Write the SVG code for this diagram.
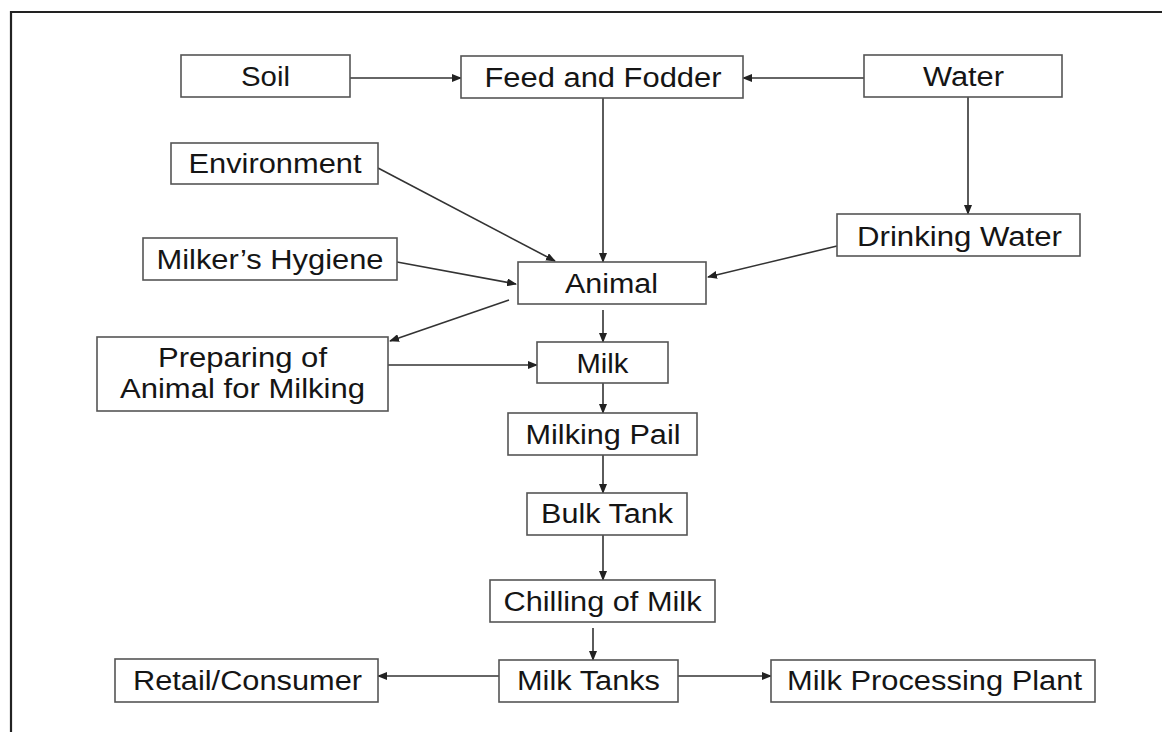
<svg xmlns="http://www.w3.org/2000/svg" width="1162" height="732" viewBox="0 0 1162 732">
<defs>
<style>
.box{fill:#fff;stroke:#555;stroke-width:1.6}
.t{font-family:"Liberation Sans",Arial,sans-serif;font-size:27px;fill:#151515;text-anchor:middle}
.c{stroke:#333;stroke-width:1.6;fill:none;marker-end:url(#ah)}
</style>
<marker id="ah" markerWidth="10" markerHeight="8" refX="9" refY="4" orient="auto" markerUnits="userSpaceOnUse">
<path d="M0,0 L10,4 L0,8 Z" fill="#222"/>
</marker>
</defs>
<rect width="1162" height="732" fill="#fff"/>
<path d="M11,732 V12 H1162" fill="none" stroke="#222" stroke-width="2.2"/>
<g id="connectors">
<line class="c" x1="350" y1="78" x2="461" y2="78"/>
<line class="c" x1="864" y1="78" x2="743" y2="78"/>
<line class="c" x1="603" y1="98" x2="603" y2="262"/>
<line class="c" x1="968" y1="97" x2="968" y2="214"/>
<line class="c" x1="378" y1="168" x2="555" y2="261"/>
<line class="c" x1="397" y1="262" x2="516" y2="284"/>
<line class="c" x1="837" y1="246" x2="708" y2="277"/>
<line class="c" x1="509" y1="300" x2="390" y2="341"/>
<line class="c" x1="388" y1="365" x2="537" y2="365"/>
<line class="c" x1="603" y1="310" x2="603" y2="342"/>
<line class="c" x1="603" y1="383" x2="603" y2="413"/>
<line class="c" x1="603" y1="455" x2="603" y2="493"/>
<line class="c" x1="603" y1="535" x2="603" y2="580"/>
<line class="c" x1="593" y1="628" x2="593" y2="660"/>
<line class="c" x1="499" y1="676" x2="378" y2="676"/>
<line class="c" x1="678" y1="676" x2="771" y2="676"/>
</g>
<g id="soil"><rect class="box" x="181" y="55" width="169" height="42"/><text class="t" x="265.5" y="86" textLength="49" lengthAdjust="spacingAndGlyphs">Soil</text></g>
<g id="feed"><rect class="box" x="461" y="56" width="282" height="42"/><text class="t" x="603" y="87" textLength="237" lengthAdjust="spacingAndGlyphs">Feed and Fodder</text></g>
<g id="water"><rect class="box" x="864" y="55" width="198" height="42"/><text class="t" x="963.5" y="86" textLength="81" lengthAdjust="spacingAndGlyphs">Water</text></g>
<g id="environment"><rect class="box" x="171" y="143" width="207" height="41"/><text class="t" x="275" y="173" textLength="173" lengthAdjust="spacingAndGlyphs">Environment</text></g>
<g id="drinking-water"><rect class="box" x="837" y="214" width="243" height="42"/><text class="t" x="959.5" y="246" textLength="205" lengthAdjust="spacingAndGlyphs">Drinking Water</text></g>
<g id="milkers-hygiene"><rect class="box" x="143" y="238" width="254" height="42"/><text class="t" x="270" y="269" textLength="227" lengthAdjust="spacingAndGlyphs">Milker’s Hygiene</text></g>
<g id="animal"><rect class="box" x="518" y="262" width="188" height="42"/><text class="t" x="611.5" y="293" textLength="93" lengthAdjust="spacingAndGlyphs">Animal</text></g>
<g id="preparing"><rect class="box" x="97" y="337" width="291" height="74"/><text class="t" x="242.5" y="367" textLength="169" lengthAdjust="spacingAndGlyphs">Preparing of</text><text class="t" x="242.5" y="398" textLength="245" lengthAdjust="spacingAndGlyphs">Animal for Milking</text></g>
<g id="milk"><rect class="box" x="537" y="342" width="131" height="41"/><text class="t" x="602.5" y="373" textLength="52" lengthAdjust="spacingAndGlyphs">Milk</text></g>
<g id="milking-pail"><rect class="box" x="508" y="413" width="189" height="42"/><text class="t" x="603" y="444" textLength="155" lengthAdjust="spacingAndGlyphs">Milking Pail</text></g>
<g id="bulk-tank"><rect class="box" x="527" y="493" width="160" height="42"/><text class="t" x="607" y="523" textLength="132" lengthAdjust="spacingAndGlyphs">Bulk Tank</text></g>
<g id="chilling"><rect class="box" x="490" y="580" width="225" height="42"/><text class="t" x="602.5" y="611" textLength="198" lengthAdjust="spacingAndGlyphs">Chilling of Milk</text></g>
<g id="milk-tanks"><rect class="box" x="499" y="660" width="179" height="42"/><text class="t" x="588.5" y="690" textLength="143" lengthAdjust="spacingAndGlyphs">Milk Tanks</text></g>
<g id="retail"><rect class="box" x="115" y="659" width="263" height="43"/><text class="t" x="247.5" y="690" textLength="229" lengthAdjust="spacingAndGlyphs">Retail/Consumer</text></g>
<g id="processing"><rect class="box" x="771" y="660" width="324" height="42"/><text class="t" x="934.5" y="690" textLength="295" lengthAdjust="spacingAndGlyphs">Milk Processing Plant</text></g>
</svg>
